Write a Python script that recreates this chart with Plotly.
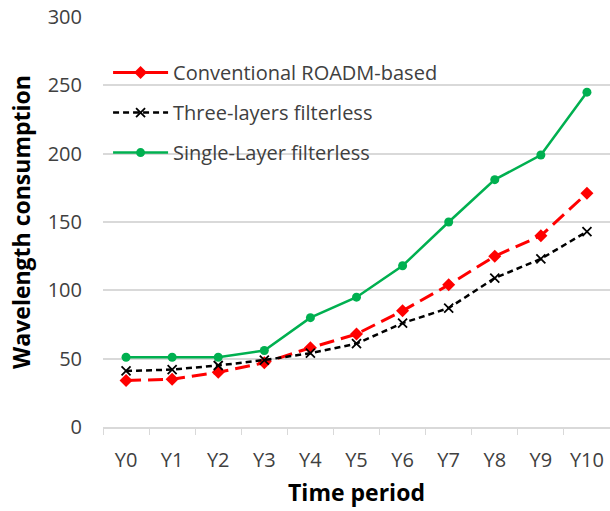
import plotly.graph_objects as go

periods = ["Y0", "Y1", "Y2", "Y3", "Y4", "Y5", "Y6", "Y7", "Y8", "Y9", "Y10"]
conventional = [34, 35, 40, 47, 58, 68, 85, 104, 125, 140, 171]
three_layers = [41, 42, 45, 49, 54, 61, 76, 87, 109, 123, 143]
single_layer = [51, 51, 51, 56, 80, 95, 118, 150, 181, 199, 245]

FONT = "Open Sans"
TXT = "#404040"

fig = go.Figure()
fig.add_trace(go.Scatter(
    x=periods, y=conventional, name="Conventional ROADM-based",
    mode="lines+markers", legendgroup="a", showlegend=False,
    line=dict(color="#ff0000", width=3, dash="15px,7px"),
    marker=dict(symbol="diamond", size=10, color="#ff0000"),
))
# legend entry (Excel shows a solid line for this series in the legend)
fig.add_trace(go.Scatter(
    x=[None], y=[None], name="Conventional ROADM-based",
    mode="lines+markers", legendgroup="a",
    line=dict(color="#ff0000", width=3),
    marker=dict(symbol="diamond", size=10, color="#ff0000"),
))
fig.add_trace(go.Scatter(
    x=periods, y=three_layers, name="Three-layers filterless",
    mode="lines+markers", legendgroup="b",
    line=dict(color="#000000", width=2.5, dash="6px,4px"),
    marker=dict(symbol="x-thin", size=9, line=dict(color="#000000", width=1.8)),
))
fig.add_trace(go.Scatter(
    x=periods, y=single_layer, name="Single-Layer filterless",
    mode="lines+markers", legendgroup="c",
    line=dict(color="#00b050", width=2.5),
    marker=dict(symbol="circle", size=9, color="#00b050"),
))

fig.update_layout(
    width=610, height=511,
    margin=dict(l=103, r=0, t=17, b=84),
    paper_bgcolor="white", plot_bgcolor="white",
    font=dict(family=FONT, size=20, color=TXT),
    showlegend=True,
    legend=dict(
        x=0.01, y=0.912, xanchor="left", yanchor="top",
        bgcolor="rgba(0,0,0,0)", font=dict(size=20, color=TXT),
        tracegroupgap=11, itemwidth=55,
    ),
    xaxis=dict(
        type="category", range=[-0.5, 10.5],
        showgrid=False, showline=True, linecolor="#d9d9d9", linewidth=1.5,
        ticks="outside", tickson="boundaries", ticklen=6, tickcolor="#d9d9d9",
        ticklabelstandoff=14,
        tickfont=dict(size=20, color=TXT),
        title=dict(text="<b>Time period</b>", font=dict(size=23, color="#000000"), standoff=13),
    ),
    yaxis=dict(
        range=[0, 300], dtick=50,
        showgrid=True, gridcolor="#d9d9d9", gridwidth=1.5,
        zeroline=False, showline=False,
        ticks="", ticklabelstandoff=20, tickfont=dict(size=20, color=TXT),
        title=dict(text="<b>Wavelength consumption</b>", font=dict(size=23, color="#000000"), standoff=10),
    ),
)

fig.write_html("out.html")
